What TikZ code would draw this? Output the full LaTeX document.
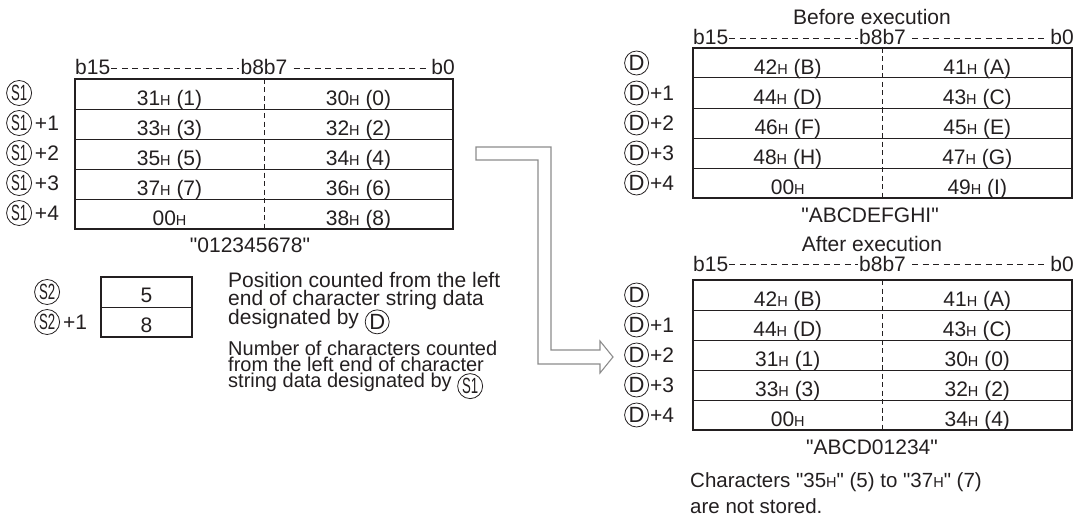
\documentclass[tikz,border=0pt]{standalone}
\usepackage{fontspec}
\setmainfont{Liberation Sans}[Ligatures=TeXOff]
\usepackage{graphicx}
\usepackage{tikz}
\usetikzlibrary{positioning,calc}
\definecolor{ink}{HTML}{231F20}
\definecolor{arrgray}{HTML}{8C8C8C}
\newcommand{\hx}[1]{#1{\fontsize{14.5}{14.5}\selectfont H}}
\newcommand{\tightlines}{\lineskiplimit=-100pt\relax}
\newcommand{\circD}{\tikz[baseline=(cd.base)]\node[circle,draw=ink,line width=0.8pt,inner sep=0pt,minimum size=24pt,font=\fontsize{22}{22}\selectfont](cd){D};}
\newcommand{\circS}[1]{\tikz[baseline=(cs.base)]\node[circle,draw=ink,line width=0.8pt,inner sep=0pt,minimum size=25pt,font=\fontsize{22}{22}\selectfont](cs){\scalebox{0.6}[1]{S#1}};}
\tikzset{
  memframe/.style={draw=ink,line width=1.8pt},
  rowsep/.style={draw=ink,line width=1pt},
  bytesep/.style={draw=ink,line width=0.7pt,dash pattern=on 5pt off 3.5pt},
  bitdash/.style={draw=ink,line width=0.7pt,dash pattern=on 6pt off 4.5pt},
  txt/.style={text=ink,inner sep=0pt,font=\fontsize{21}{24}\selectfont},
  cell/.style={txt,anchor=base},
  rowlbl/.style={txt,anchor=west},
  note/.style={txt,anchor=north west,align=left},
  hollowarr/.style={draw=arrgray,line width=1.1pt,fill=white,line join=miter}
}
\begin{document}
\begin{tikzpicture}[x=1pt,y=-1pt]
  \useasboundingbox (0,0) rectangle (1077,519);

  % source string at S1
  \draw[memframe] (75,79) rectangle (453,229);
  \foreach \k in {1,...,4}
    \draw[rowsep] (75,{79+30*\k}) -- (453,{79+30*\k});
  \draw[bytesep] (264,79) -- (264,229);
  \node[cell,anchor=base west] (sb15) at (75,75) {b15};
  \node[cell] (sb8) at (264,75) {b8b7};
  \node[cell,anchor=base east] (sb0) at (455,75) {b0};
  \draw[bitdash] ($(sb15.base east)+(1,-7)$) -- ($(sb8.base west)+(-1,-7)$);
  \draw[bitdash] ($(sb8.base east)+(6,-7)$) -- ($(sb0.base west)+(-4,-7)$);
  \foreach \k/\hi/\lo in {0/{\hx{31} (1)}/{\hx{30} (0)},1/{\hx{33} (3)}/{\hx{32} (2)},
                          2/{\hx{35} (5)}/{\hx{34} (4)},3/{\hx{37} (7)}/{\hx{36} (6)},
                          4/{\hx{00}}/{\hx{38} (8)}}{
    \node[cell] (sh\k) at (169.5,{105.5+30*\k}) {\hi};
    \node[cell] (sl\k) at (358.5,{105.5+30*\k}) {\lo};
  }
  \node[rowlbl] (s1l0) at (6,93) {\circS{1}};
  \foreach \k in {1,...,4}
    \node[rowlbl] (s1l\k) at (6,{93+30*\k}) {\circS{1}\hspace{3pt}+\k};
  \node[cell] (scap) at (250,252) {"012345678"};

  % position and count at S2
  \draw[memframe] (101,277) rectangle (192,337);
  \draw[rowsep] (101,307) -- (192,307);
  \node[cell] (npos) at (146.5,302) {5};
  \node[cell] (ncnt) at (146.5,332) {8};
  \node[rowlbl] (s2l0) at (34,292) {\circS{2}};
  \node[rowlbl] (s2l1) at (34,322) {\circS{2}\hspace{3pt}+1};
  \node[note,font=\fontsize{21}{18.5}\selectfont\tightlines] (posnote) at (228,272)
    {Position counted from the left\\end of character string data\\designated by \raisebox{-5pt}{\circD}};
  \node[note,font=\fontsize{20}{16}\selectfont\tightlines] (cntnote) at (228,341)
    {Number of characters counted\\from the left end of character\\string data designated by \raisebox{-6pt}{\circS{1}}};

  % hollow arrow
  \draw[hollowarr] (476,147) -- (551,147) -- (551,350) -- (600,350) -- (600,341)
    -- (613,357) -- (600,373) -- (600,364) -- (538,364) -- (538,160) -- (476,160) -- cycle;

  % destination D, before and after
  \foreach \t/\hb/\tag in {48/45/bf,280/271/af}{
    \draw[memframe] (693,\t) rectangle (1072,{\t+150});
    \foreach \k in {1,...,4}
      \draw[rowsep] (693,{\t+30*\k}) -- (1072,{\t+30*\k});
    \draw[bytesep] (882.5,\t) -- (882.5,{\t+150});
    \node[cell,anchor=base west] (\tag b15) at (693,\hb) {b15};
    \node[cell] (\tag b8) at (882.5,\hb) {b8b7};
    \node[cell,anchor=base east] (\tag b0) at (1074,\hb) {b0};
    \draw[bitdash] ($(\tag b15.base east)+(1,-7)$) -- ($(\tag b8.base west)+(-1,-7)$);
    \draw[bitdash] ($(\tag b8.base east)+(6,-7)$) -- ($(\tag b0.base west)+(-4,-7)$);
    \node[rowlbl] (\tag d0) at (624,{\t+15}) {\circD};
    \foreach \k in {1,...,4}
      \node[rowlbl] (\tag d\k) at (624,{\t+15+30*\k}) {\circD\hspace{1pt}+\k};
  }
  \foreach \k/\hi/\lo in {0/{\hx{42} (B)}/{\hx{41} (A)},1/{\hx{44} (D)}/{\hx{43} (C)},
                          2/{\hx{46} (F)}/{\hx{45} (E)},3/{\hx{48} (H)}/{\hx{47} (G)},
                          4/{\hx{00}}/{\hx{49} (I)}}{
    \node[cell] (bfh\k) at (787.75,{74.5+30*\k}) {\hi};
    \node[cell] (bfl\k) at (977.25,{74.5+30*\k}) {\lo};
  }
  \foreach \k/\hi/\lo in {0/{\hx{42} (B)}/{\hx{41} (A)},1/{\hx{44} (D)}/{\hx{43} (C)},
                          2/{\hx{31} (1)}/{\hx{30} (0)},3/{\hx{33} (3)}/{\hx{32} (2)},
                          4/{\hx{00}}/{\hx{34} (4)}}{
    \node[cell] (afh\k) at (787.75,{306.5+30*\k}) {\hi};
    \node[cell] (afl\k) at (977.25,{306.5+30*\k}) {\lo};
  }
  \node[cell] (bfttl) at (872,24.5) {Before execution};
  \node[cell] (bfcap) at (870,222) {"ABCDEFGHI"};
  \node[cell] (afttl) at (872,251) {After execution};
  \node[cell] (afcap) at (872,454) {"ABCD01234"};
  \node[note,font=\fontsize{20.5}{26}\selectfont] (lostnote) at (690,472)
    {Characters "\hx{35}" (5) to "\hx{37}" (7)\\are not stored.};
\end{tikzpicture}
\end{document}
